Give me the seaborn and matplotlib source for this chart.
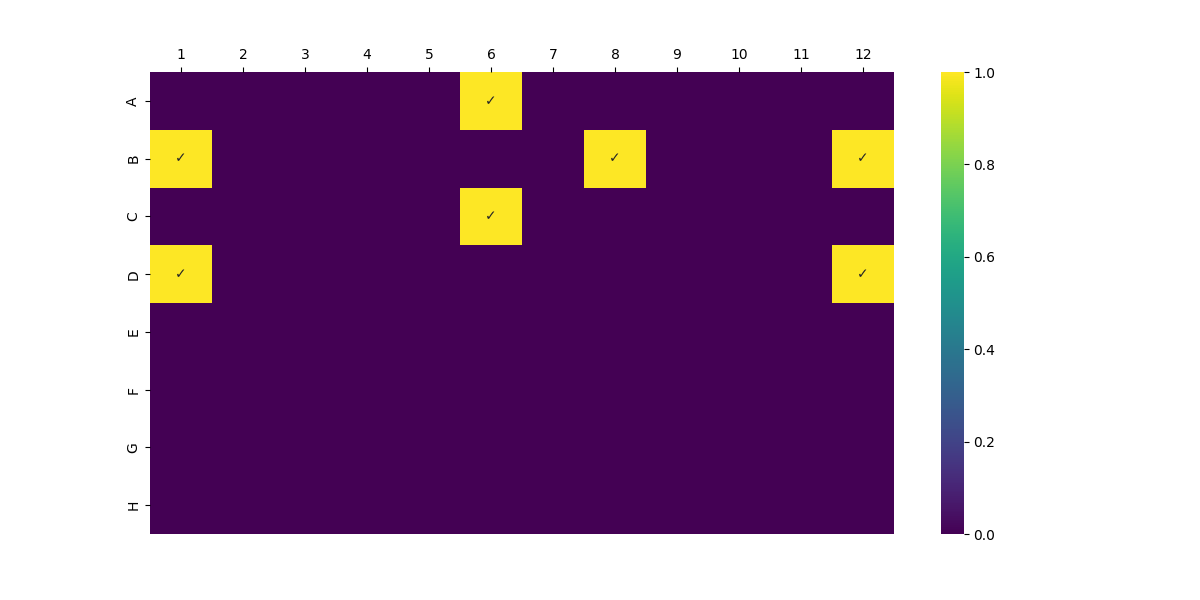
import matplotlib
matplotlib.use("Agg")
import matplotlib.pyplot as plt
import seaborn as sns
import numpy as np
import pandas as pd

rows = ["A", "B", "C", "D", "E", "F", "G", "H"]
cols = [1, 2, 3, 4, 5, 6, 7, 8, 9, 10, 11, 12]
row_A = [0, 0, 0, 0, 0, 1, 0, 0, 0, 0, 0, 0]
row_B = [1, 0, 0, 0, 0, 0, 0, 1, 0, 0, 0, 1]
row_C = [0, 0, 0, 0, 0, 1, 0, 0, 0, 0, 0, 0]
row_D = [1, 0, 0, 0, 0, 0, 0, 0, 0, 0, 0, 1]
row_E = [0] * 12
row_F = [0] * 12
row_G = [0] * 12
row_H = [0] * 12

data = pd.DataFrame([row_A, row_B, row_C, row_D, row_E, row_F, row_G, row_H],
                    index=rows, columns=cols).astype(float)
labels = np.where(data.values == 1, "✓", "")

fig, ax = plt.subplots(figsize=(12, 6), dpi=100)
sns.heatmap(data, cmap="viridis", vmin=0, vmax=1, annot=labels, fmt="", ax=ax)
ax.xaxis.tick_top()
ax.xaxis.set_label_position("top")
ax.tick_params(axis="x", rotation=0)
fig.savefig("out.png", dpi=100)
